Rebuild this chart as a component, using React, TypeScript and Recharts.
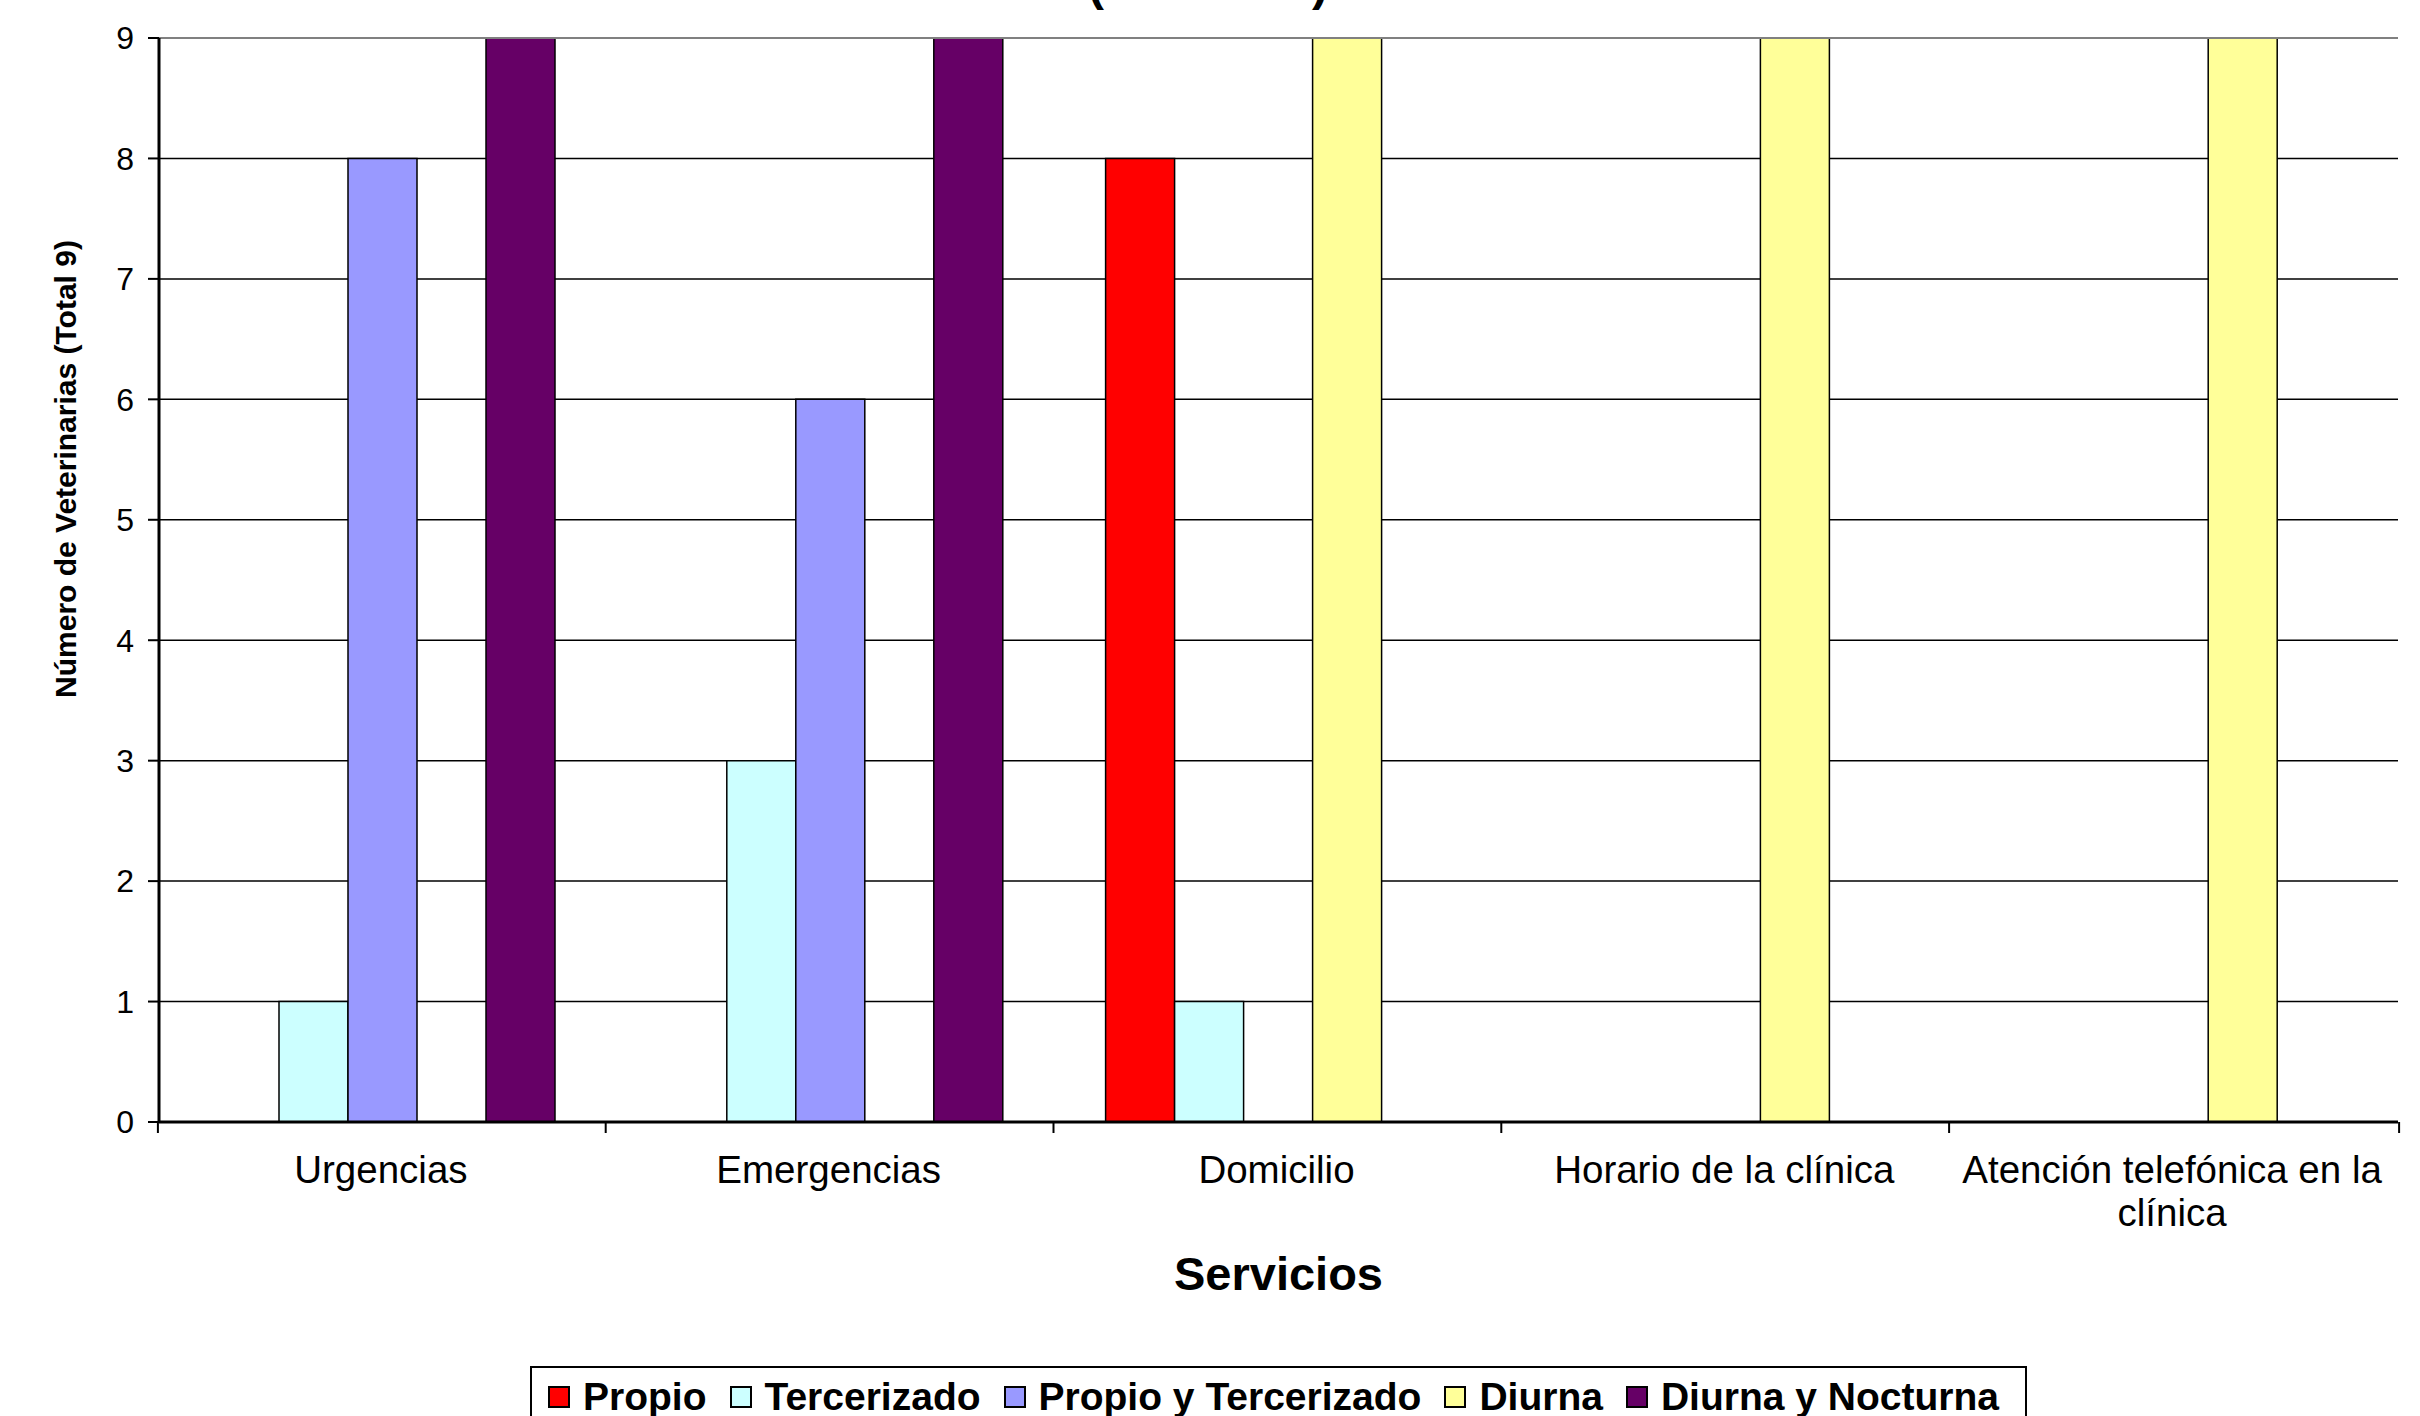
import React from 'react';
import { BarChart, Bar, XAxis, YAxis, CartesianGrid, Legend, ReferenceLine, Label } from 'recharts';

const categories = [
  'Urgencias',
  'Emergencias',
  'Domicilio',
  'Horario de la clínica',
  'Atención telefónica en la clínica',
];
const categoryLines = [
  ['Urgencias'],
  ['Emergencias'],
  ['Domicilio'],
  ['Horario de la clínica'],
  ['Atención telefónica en la', 'clínica'],
];
const propio = [0, 0, 8, 0, 0];
const tercerizado = [1, 3, 1, 0, 0];
const propioYTercerizado = [8, 6, 0, 0, 0];
const diurna = [0, 0, 9, 9, 9];
const diurnaYNocturna = [9, 9, 0, 0, 0];
const yTicks = [0, 1, 2, 3, 4, 5, 6, 7, 8, 9];
const seriesNames = ['Propio', 'Tercerizado', 'Propio y Tercerizado', 'Diurna', 'Diurna y Nocturna'];
const seriesColors = ['#FF0000', '#CCFFFF', '#9999FF', '#FFFF99', '#660066'];
const seriesValues = [propio, tercerizado, propioYTercerizado, diurna, diurnaYNocturna];
const titleText = '(Gráfico 6)';
const yTitle = 'Número de Veterinarias (Total 9)';
const xTitle = 'Servicios';

const FONT = '"Liberation Sans", Arial, sans-serif';
const W = 2420;
const H = 1416;
const M_TOP = 38;
const M_RIGHT = 22;
const Y_W = 159;
const PLOT_BOTTOM = 1122;
const PLOT_W = 2409 - Y_W;
const BAND = PLOT_W / categories.length;

const data = categories.map((name, i) => {
  const row: any = { name };
  seriesValues.forEach((vals, k) => {
    row['s' + k] = vals[i];
  });
  return row;
});

const XTick = (props: any) => {
  const { x, index } = props;
  const left = x - BAND / 2;
  const right = x + BAND / 2;
  const lines = categoryLines[index] || [];
  const tx = x - 2;
  return (
    <g>
      <line x1={left} x2={left} y1={PLOT_BOTTOM} y2={PLOT_BOTTOM + 11} stroke="#000" strokeWidth={2} />
      {index === categories.length - 1 && (
        <line x1={right} x2={right} y1={PLOT_BOTTOM} y2={PLOT_BOTTOM + 11} stroke="#000" strokeWidth={2} />
      )}
      <text x={tx} y={PLOT_BOTTOM + 61} textAnchor="middle" fill="#000" style={{ fontSize: 38.5, fontFamily: FONT }}>
        {lines.map((ln, i) => (
          <tspan key={i} x={tx} dy={i === 0 ? 0 : 43}>
            {ln}
          </tspan>
        ))}
      </text>
    </g>
  );
};

const YTitle = () => (
  <text
    x={76}
    y={469}
    transform="rotate(-90 76 469)"
    textAnchor="middle"
    fill="#000"
    style={{ fontSize: 30, fontWeight: 'bold', fontFamily: FONT }}
  >
    {yTitle}
  </text>
);

const XTitle = (props: any) => {
  const vb = props.viewBox || {};
  const cx = (vb.x ?? Y_W) + (vb.width ?? PLOT_W) / 2;
  return (
    <text x={cx} y={1290} textAnchor="middle" fill="#000" style={{ fontSize: 47, fontWeight: 'bold', fontFamily: FONT }}>
      {xTitle}
    </text>
  );
};

const LegendContent = () => (
  <div style={{ width: 1497, height: 51, overflow: 'hidden', boxSizing: 'border-box' }}>
    <div
      style={{
        border: '2px solid #000',
        height: 62,
        boxSizing: 'border-box',
        display: 'flex',
        alignItems: 'center',
        paddingLeft: 16,
        background: '#fff',
      }}
    >
      {seriesNames.map((name, i) => (
        <div key={name} style={{ display: 'flex', alignItems: 'center', marginRight: 23 }}>
          <div
            style={{
              width: 22,
              height: 22,
              background: seriesColors[i],
              border: '2px solid #000',
              boxSizing: 'border-box',
              marginRight: 13,
            }}
          />
          <span style={{ fontSize: 39, fontWeight: 'bold', fontFamily: FONT, color: '#000', lineHeight: '40px' }}>
            {name}
          </span>
        </div>
      ))}
    </div>
  </div>
);

export default function App() {
  return (
    <div style={{ position: 'absolute', left: 0, top: 0, width: W, height: H, background: '#fff', overflow: 'hidden' }}>
      <BarChart
        width={W}
        height={H}
        data={data}
        margin={{ top: M_TOP, right: M_RIGHT, left: 0, bottom: 0 }}
        barCategoryGap={51}
        barGap={0}
      >
        <CartesianGrid horizontal vertical={false} stroke="#000" strokeWidth={1.5} />
        <XAxis
          dataKey="name"
          height={243}
          interval={0}
          axisLine={{ stroke: '#000', strokeWidth: 3 }}
          tickLine={false}
          tick={<XTick />}
        >
          <Label content={<XTitle />} />
        </XAxis>
        <YAxis
          domain={[0, 9]}
          ticks={yTicks}
          interval={0}
          width={Y_W}
          axisLine={{ stroke: '#000', strokeWidth: 3 }}
          tickLine={{ stroke: '#000', strokeWidth: 2 }}
          tickSize={11}
          tickMargin={14}
          tick={{ fill: '#000', fontSize: 32, fontFamily: FONT }}
        >
          <Label content={<YTitle />} />
        </YAxis>
        <ReferenceLine y={9} stroke="#808080" strokeWidth={2} />
        {seriesNames.map((name, k) => (
          <Bar
            key={name}
            dataKey={'s' + k}
            name={name}
            fill={seriesColors[k]}
            stroke="#000"
            strokeWidth={1.5}
            isAnimationActive={false}
          />
        ))}
        <Legend
          content={<LegendContent />}
          wrapperStyle={{ top: 1366, left: 530, width: 1497, height: 51 }}
        />
      </BarChart>
      <svg width={W} height={30} style={{ position: 'absolute', left: 0, top: 0, overflow: 'visible' }}>
        <text x={1208} y={0} textAnchor="middle" fill="#000" style={{ fontSize: 48, fontWeight: 'bold', fontFamily: FONT }}>
          {titleText}
        </text>
      </svg>
    </div>
  );
}
